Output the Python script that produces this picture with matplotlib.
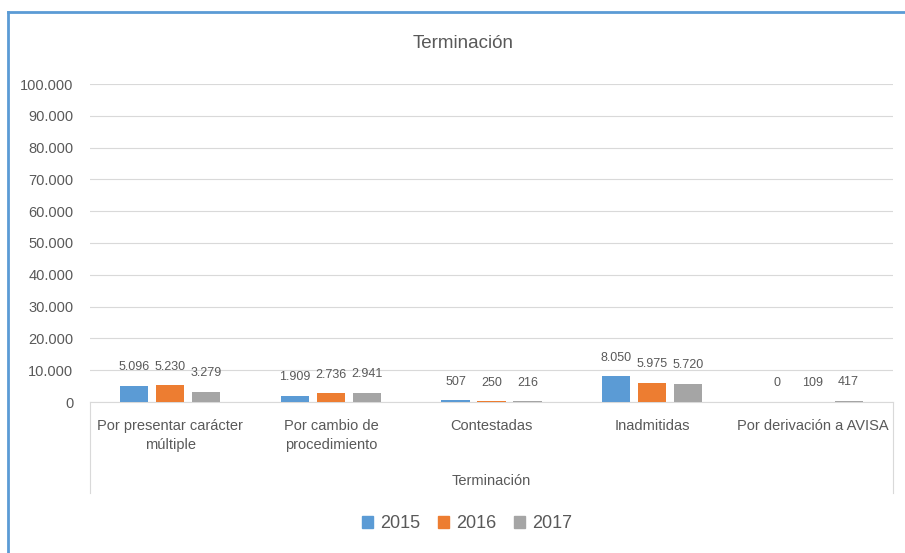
import numpy as np
import matplotlib.pyplot as plt
from matplotlib.lines import Line2D
from matplotlib.patches import Patch

plt.rcParams['font.family'] = ['Liberation Sans', 'DejaVu Sans']

categories = ["Por presentar carácter\nmúltiple", "Por cambio de\nprocedimiento",
              "Contestadas", "Inadmitidas", "Por derivación a AVISA"]
years = ["2015", "2016", "2017"]
v2015 = [5096, 1909, 507, 8050, 0]
v2016 = [5230, 2736, 250, 5975, 109]
v2017 = [3279, 2941, 216, 5720, 417]
colors = ["#5B9BD5", "#ED7D31", "#A5A5A5"]
grey = "#595959"

fig = plt.figure(figsize=(9.05, 5.53), dpi=100)
ax = fig.add_axes([90 / 905, 1 - 402 / 553, 803 / 905, 318 / 553])

x = np.arange(len(categories))
w = 0.175
step = 0.224
for i, (vals, c) in enumerate(zip([v2015, v2016, v2017], colors)):
    pos = x + (i - 1) * step
    ax.bar(pos, vals, width=w, color=c, zorder=3)
    for p, v in zip(pos, vals):
        lab = f"{v:,}".replace(",", ".")
        ax.annotate(lab, (p, v), xytext=(0, 9), textcoords="offset points",
                    ha="center", va="bottom", fontsize=9, color=grey)

ax.set_xlim(-0.5, len(categories) - 0.5)
ax.set_ylim(0, 100000)
yt = np.arange(0, 100001, 10000)
ax.set_yticks(yt)
ax.set_yticklabels(["0" if t == 0 else f"{t:,}".replace(",", ".") for t in yt],
                   fontsize=10.5, color=grey)
ax.set_xticks(x)
ax.set_xticklabels(categories, fontsize=10.5, color=grey, linespacing=1.5)
ax.tick_params(axis="x", length=0, pad=12)
ax.tick_params(axis="y", length=0, pad=12)
ax.grid(axis="y", color="#D9D9D9", linewidth=0.8, zorder=0)
for s in ["top", "right", "left"]:
    ax.spines[s].set_visible(False)
ax.spines["bottom"].set_color("#D9D9D9")

# category axis box
for xx in (0, 1):
    ax.add_line(Line2D([xx, xx], [0, -91 / 318], transform=ax.transAxes,
                       color="#D9D9D9", linewidth=0.8, clip_on=False))

ax.text(0.5, -79 / 318, "Terminación", transform=ax.transAxes, ha="center",
        va="center", fontsize=10.5, color=grey)
fig.text(463 / 905, 1 - 44 / 553, "Terminación", ha="center", va="center",
         fontsize=13.5, color=grey)

handles = [Patch(color=c) for c in colors]
fig.legend(handles, years, loc="center", bbox_to_anchor=(467 / 905, 1 - 524 / 553),
           ncol=3, frameon=False, fontsize=13, labelcolor=grey,
           handlelength=0.6, handleheight=0.6, columnspacing=1.0, handletextpad=0.4)

# chart border (left and top visible)
fig.add_artist(Line2D([8 / 905, 8 / 905], [0, 1 - 12 / 553], transform=fig.transFigure,
                      color="#5B9BD5", linewidth=2))
fig.add_artist(Line2D([8 / 905, 1], [1 - 12 / 553, 1 - 12 / 553], transform=fig.transFigure,
                      color="#5B9BD5", linewidth=2))

fig.savefig("out.png", dpi=100)
